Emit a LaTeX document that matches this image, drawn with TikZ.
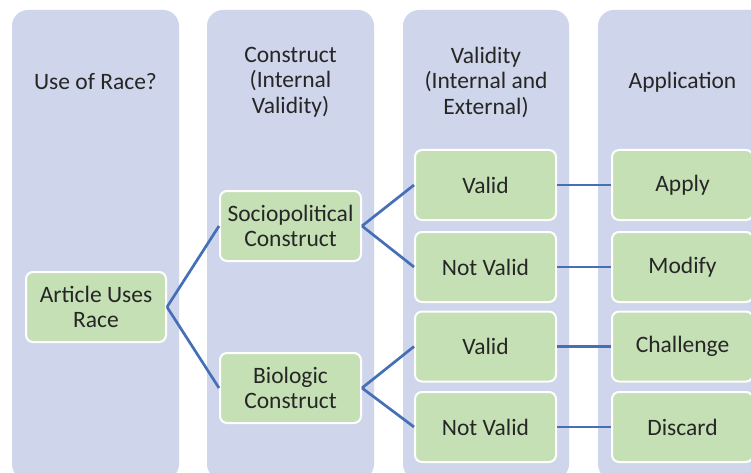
\documentclass[tikz,border=0pt]{standalone}
\usepackage{fontspec}
\setmainfont{Carlito}
\definecolor{colbg}{HTML}{CFD5EA}
\definecolor{boxfill}{HTML}{C5E0B4}
\definecolor{linkc}{HTML}{4570B8}
\definecolor{txt}{HTML}{262626}
\begin{document}
\begin{tikzpicture}[x=1pt,y=-1pt,
  colbox/.style={fill=colbg,rounded corners=16pt},
  hdr/.style={align=center,text=txt,font=\fontsize{23.5}{25.5}\selectfont,inner sep=0pt},
  gbox/.style={draw=white,line width=2pt,fill=boxfill,rounded corners=7pt,minimum width=141pt,minimum height=70pt,align=center,text=txt,font=\fontsize{23.5}{25.5}\selectfont,inner sep=0pt},
  link/.style={draw=linkc,line width=2.7pt}]
\useasboundingbox (0,0) rectangle (751,473);
\fill[white] (0,0) rectangle (751,473);
% columns
\path[colbox] (12,10) rectangle (179,480);
\path[colbox] (207,10) rectangle (374,480);
\path[colbox] (403,10) rectangle (569,480);
\path[colbox] (598,10) rectangle (767,480);
% headers
\node[hdr] (h1) at (95.5,82) {Use of Race?};
\node[hdr] (h2) at (290.5,82) {Construct\\(Internal\\Validity)};
\node[hdr] (h3) at (486,82) {Validity\\(Internal and\\External)};
\node[hdr] (h4) at (682.5,82) {Application};
% boxes
\node[gbox,minimum width=140pt] (art) at (96,307) {Article Uses\\Race};
\node[gbox] (soc) at (290.5,226) {Sociopolitical\\Construct};
\node[gbox] (bio) at (290.5,388) {Biologic\\Construct};
\node[gbox] (v1) at (485.5,185) {Valid};
\node[gbox] (nv1) at (485.5,267) {Not Valid};
\node[gbox] (v2) at (485.5,346.5) {Valid};
\node[gbox] (nv2) at (485.5,427) {Not Valid};
\node[gbox] (ap) at (682.5,185) {Apply};
\node[gbox] (mo) at (682.5,267) {Modify};
\node[gbox] (ch) at (682.5,346.5) {Challenge};
\node[gbox] (di) at (682.5,427) {Discard};
% links
\draw[link] (art.east) -- (soc.west);
\draw[link] (art.east) -- (bio.west);
\draw[link] (soc.east) -- (v1.west);
\draw[link] (soc.east) -- (nv1.west);
\draw[link] (bio.east) -- (v2.west);
\draw[link] (bio.east) -- (nv2.west);
\draw[link] (v1.east) -- (ap.west);
\draw[link] (nv1.east) -- (mo.west);
\draw[link] (v2.east) -- (ch.west);
\draw[link] (nv2.east) -- (di.west);
\end{tikzpicture}
\end{document}
